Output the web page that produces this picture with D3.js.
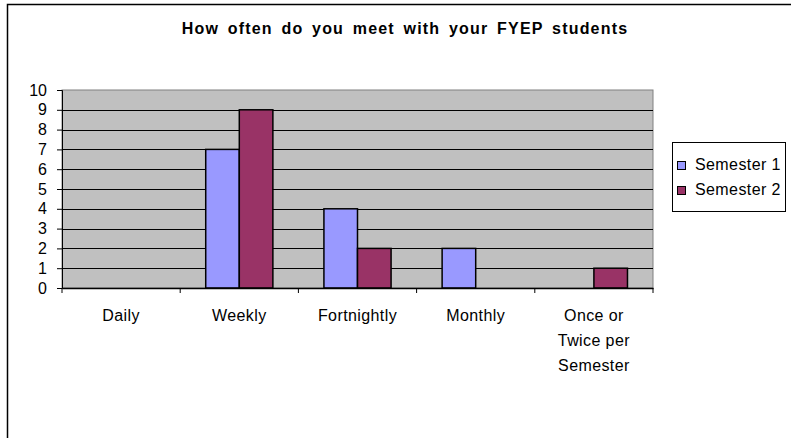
<!DOCTYPE html>
<html>
<head>
<meta charset="utf-8">
<script src="https://cdn.jsdelivr.net/npm/d3@7"></script>
<style>
  body { margin: 0; background: #fff; }
  svg { font-family: "Liberation Sans", Arial, sans-serif; }
</style>
</head>
<body>
<svg id="svg"></svg>
<script>
// data
const categories = ["Daily", "Weekly", "Fortnightly", "Monthly", "Once or\nTwice per\nSemester"];
const series = ["Semester 1", "Semester 2"];
const semester1 = [0, 7, 4, 2, 0];
const semester2 = [0, 9, 2, 0, 1];
const yTicks = [0, 1, 2, 3, 4, 5, 6, 7, 8, 9, 10];
const colors = ["#9999FF", "#993366"];

const width = 791;
const height = 438;

const plot = { left: 62, right: 653, top: 90, bottom: 288 };

const svg = d3.select("#svg").attr("width", width).attr("height", height);

// outer chart frame (runs off to the right and bottom)
svg.append("rect")
    .attr("x", 7.5)
    .attr("y", 4.5)
    .attr("width", 900)
    .attr("height", 600)
    .attr("fill", "none")
    .attr("stroke", "#000")
    .attr("stroke-width", 1.5);

svg.append("text")
    .attr("x", 405)
    .attr("y", 34)
    .attr("text-anchor", "middle")
    .style("font-size", "16px")
    .style("font-weight", "bold")
    .style("letter-spacing", "1.2px")
    .style("word-spacing", "3px")
    .text("How often do you meet with your FYEP students");

const x = d3.scaleBand()
    .domain(categories)
    .range([plot.left, plot.right]);

const xInner = d3.scaleBand()
    .domain(series)
    .range([0, x.bandwidth()])
    .paddingOuter(0.76)
    .paddingInner(0);

const y = d3.scaleLinear()
    .domain([0, 10])
    .range([plot.bottom, plot.top]);

// plot background
svg.append("rect")
    .attr("x", plot.left)
    .attr("y", plot.top)
    .attr("width", plot.right - plot.left)
    .attr("height", plot.bottom - plot.top)
    .attr("fill", "#C0C0C0")
    .attr("stroke", "#808080")
    .attr("stroke-width", 1);

// gridlines
svg.append("g")
    .selectAll("line")
    .data(yTicks.filter((d) => d > 0 && d < 10))
    .join("line")
    .attr("x1", plot.left)
    .attr("x2", plot.right)
    .attr("y1", (d) => Math.round(y(d)) + 0.5)
    .attr("y2", (d) => Math.round(y(d)) + 0.5)
    .attr("stroke", "#000")
    .attr("stroke-width", 1);

// bars
const rows = categories.map((c, i) => ({ cat: c, vals: [semester1[i], semester2[i]] }));

const groups = svg.append("g")
    .selectAll("g")
    .data(rows)
    .join("g")
    .attr("transform", (d) => `translate(${x(d.cat)},0)`);

groups.selectAll("rect")
    .data((d) => d.vals.map((v, j) => ({ s: series[j], v: v, j: j })).filter((e) => e.v > 0))
    .join("rect")
    .attr("x", (d) => xInner(d.s))
    .attr("y", (d) => y(d.v))
    .attr("width", xInner.bandwidth())
    .attr("height", (d) => y(0) - y(d.v))
    .attr("fill", (d) => colors[d.j])
    .attr("stroke", "#000")
    .attr("stroke-width", 1.5);

// y axis
const yAxis = d3.axisLeft(y).tickValues(yTicks).tickSize(5).tickPadding(10);
const gy = svg.append("g")
    .attr("transform", `translate(${plot.left},0)`)
    .call(yAxis);
gy.select(".domain").attr("stroke", "#000");
gy.selectAll("text")
    .style("font-size", "16px")
    .style("font-family", "Liberation Sans, Arial, sans-serif")
    .attr("fill", "#000");

// x axis
const gx = svg.append("g")
    .attr("transform", `translate(0,${plot.bottom})`)
    .call(d3.axisBottom(x).tickSize(0).tickFormat(""));
gx.select(".domain").attr("stroke", "#000").attr("stroke-width", 1.5);

// category boundary ticks
svg.append("g")
    .selectAll("line")
    .data(categories.map((c) => x(c)).concat([plot.right]))
    .join("line")
    .attr("x1", (d) => d)
    .attr("x2", (d) => d)
    .attr("y1", plot.bottom)
    .attr("y2", plot.bottom + 5)
    .attr("stroke", "#000");

// x labels
const xl = svg.append("g")
    .selectAll("text")
    .data(categories)
    .join("text")
    .attr("x", (d) => x(d) + x.bandwidth() / 2)
    .attr("y", 321)
    .attr("text-anchor", "middle")
    .style("font-size", "16px")
    .style("letter-spacing", "0.4px");

xl.selectAll("tspan")
    .data((d) => d.split("\n"))
    .join("tspan")
    .attr("x", function () { return d3.select(this.parentNode).attr("x"); })
    .attr("dy", (d, i) => (i === 0 ? 0 : 25))
    .text((d) => d);

// legend
const legend = svg.append("g");
legend.append("rect")
    .attr("x", 672.5)
    .attr("y", 142.5)
    .attr("width", 113)
    .attr("height", 69)
    .attr("fill", "#fff")
    .attr("stroke", "#000")
    .attr("stroke-width", 1);

const items = legend.selectAll("g.item")
    .data(series)
    .join("g")
    .attr("class", "item")
    .attr("transform", (d, i) => `translate(677,${170 + i * 25})`);

items.append("rect")
    .attr("x", 0.5)
    .attr("y", -8.5)
    .attr("width", 8)
    .attr("height", 8)
    .attr("fill", (d, i) => colors[i])
    .attr("stroke", "#000");

items.append("text")
    .attr("x", 18)
    .attr("y", 0)
    .style("font-size", "16px")
    .style("letter-spacing", "0.4px")
    .text((d) => d);
</script>
</body>
</html>
